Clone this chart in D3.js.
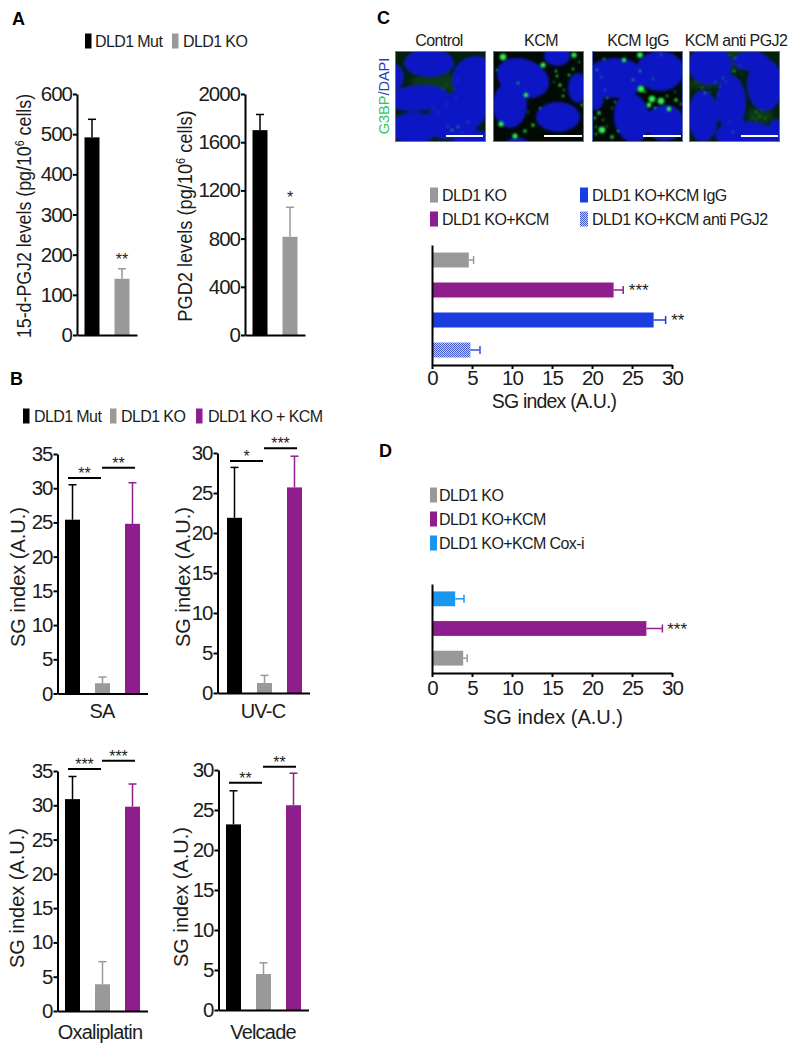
<!DOCTYPE html>
<html><head><meta charset="utf-8">
<script src="https://cdn.jsdelivr.net/npm/d3@7"></script>
<style>
html,body{margin:0;padding:0;background:#fff}
svg{display:block}
text{font-family:"Liberation Sans",Arial,sans-serif;fill:#1c1c1c}
.tick text{font-size:20.5px;letter-spacing:-1px}
.axis path,.axis line{stroke:#000;stroke-width:2}
.lg{font-size:16px;letter-spacing:-.6px}
.st{font-size:16px}
.st2{font-size:17px}
</style></head><body>
<svg id="c" width="791" height="1050"></svg>
<script>
// ---------- data ----------
const colours = {mut:"#000000", ko:"#999999", kcm:"#8e1e8e", igg:"#1a3de0", anti:"url(#hatch)", cox:"#1a96ee"};
const antiErrColour = "#3a50dc";

const groupsA = ["mut","ko"];
const groupsB = ["mut","ko","kcm"];

const pgj2Values = [492,140],  pgj2Tops = [537,165];
const pgd2Values = [1700,815], pgd2Tops = [1830,1060];

const saValues   = [25.4,1.5,24.8],  saTops   = [30.5,2.4,30.8];
const uvcValues  = [21.9,1.25,25.7], uvcTops  = [28.2,2.2,29.6];
const oxaValues  = [30.9,3.9,29.8],  oxaTops  = [34.2,7.2,33.1];
const velValues  = [23.2,4.5,25.6],  velTops  = [27.4,5.9,29.6];

const saSig  = [["**",31.5],["**",33.0]];
const uvcSig = [["*",29.0],["***",30.6]];
const oxaSig = [["***",35.3],["***",36.5]];
const velSig = [["**",28.4],["**",30.4]];

const ticks35 = [0,5,10,15,20,25,30,35];
const ticks30 = [0,5,10,15,20,25,30];
const ticksPgj2 = [0,100,200,300,400,500,600];
const ticksPgd2 = [0,400,800,1200,1600,2000];

const groupsC = ["ko","kcm","igg","anti"];
const cValues = [4.6,22.7,27.7,4.8], cTops = [5.2,23.9,29.2,6.0];
const groupsD = ["cox","kcm","ko"];
const dValues = [2.9,26.8,3.9], dTops = [4.0,28.8,4.4];

const imageTitles = ["Control","KCM","KCM IgG","KCM anti PGJ2"];
// nuclei and granules of the micrographs, in each 89-unit image's own units: [cx,cy,rx,ry,rot]
const nuclei = [
 [[33,11,25,14,0],[80,28,24,24,-30],[-2,25,10,13,0],[22,46,31,13,-5],[62,62,34,22,-30],[18,76,24,16,0],[75,86,18,9,0]],
 [[29,26,27,19,20],[16,53,17,23,0],[64,65,22,15,0],[63,4,13,10,0],[84,36,10,15,0],[23,89,10,3,0]],
 [[22,26,30,20,0],[67,19,24,20,0],[39,66,18,25,-10],[72,71,20,18,0],[3,46,8,12,0]],
 [[20,13,22,20,0],[75,33,18,26,0],[41,51,15,28,0],[13,64,15,26,0],[61,9,18,10,0],[55,83,30,14,0],[86,79,8,12,0]]
];
const haze = [
 [[40,32,26,12,0],[40,62,10,5,0],[58,80,12,4,0]],
 [],
 [],
 [[45,5,10,14,0],[15,32,20,5,0],[70,64,13,10,0],[33,28,12,8,0],[40,85,10,6,0]]
];
const spots = [
 [[52,20,.5],[50,33,.5],[62,28,.5],[47,36,.5],[58,38,.5],[38,56,.6],[42,60,.6],[50,52,.5],[60,46,.5],[56,78,1],[62,75,1],[52,74,.7],[72,70,.7],[66,80,.6]],
 [[9,5,3.2],[49,13,2.6],[80,3,2.6],[32,43,2.3],[24,31,1.1],[7,72,2.6],[21,84,2.6],[31,79,1.6],[39,73,1.6],[66,33,1.6],[69,44,1.2],[62,19,1.2],[75,23,1.2],[79,17,1.2],[63,24,1.2],[88,53,1.2],[46,56,1.1],[70,38,.9],[3,18,.9],[34,60,.8],[60,30,.8],[85,10,.9]],
 [[47,3,2.8],[31,8,2.2],[48,37,3.3],[59,47,3.3],[68,49,3.3],[56,53,2.4],[76,57,2.4],[83,48,1.7],[9,78,3.3],[6,61,1.7],[2,66,1.2],[19,85,1.7],[25,79,1.1],[14,46,1.1],[74,44,1.1],[11,7,1.1],[47,19,1.1],[4,18,.9],[8,25,.8],[12,38,.8],[22,50,.9],[19,56,.8],[10,68,.9],[14,74,.8],[3,82,1.1],[88,52,1.1],[68,3,.8],[60,27,.8],[40,28,1],[82,40,.8],[62,56,1.1],[52,40,1.1],[3,75,.9]],
 [[45,6,.8],[44,19,1.1],[50,14,.6],[12,36,.7],[20,40,.6],[25,30,.7],[33,26,.7],[15,41,.9],[66,60,.8],[70,64,.8],[66,68,.6],[75,66,.7],[72,58,.6],[62,66,.6],[40,3,.6],[52,22,.6],[36,30,.6],[30,35,.6],[28,42,.6],[43,80,.7],[40,70,.6],[6,30,.6]]
];
const scaleBars = [[50,87],[50,88],[50,88],[51,88]];

const legendA = [["DLD1 Mut",85,95,"mut"],["DLD1 KO",172,183,"ko"]];
const legendB = [["DLD1 Mut",23,34,"mut"],["DLD1 KO",110,121,"ko"],["DLD1 KO + KCM",196,208,"kcm"]];
const legendC = [["DLD1 KO",430,442,"ko",195],["DLD1 KO+KCM",430,442,"kcm",219],["DLD1 KO+KCM IgG",580,592,"igg",195],["DLD1 KO+KCM anti PGJ2",580,592,"anti",219]];
const legendD = [["DLD1 KO",430,439,"ko",495],["DLD1 KO+KCM",430,439,"kcm",519],["DLD1 KO+KCM Cox-i",430,439,"cox",543]];

// ---------- drawing ----------
const svg = d3.select("#c");
const defs = svg.append("defs");
const pat = defs.append("pattern").attr("id","hatch").attr("width",2).attr("height",2).attr("patternUnits","userSpaceOnUse");
pat.append("rect").attr("width",2).attr("height",2).attr("fill","#c9cff2");
pat.append("rect").attr("width",1).attr("height",1).attr("fill","#4258cf");
pat.append("rect").attr("x",1).attr("y",1).attr("width",1).attr("height",1).attr("fill","#4258cf");
[["b16",1.6],["b3",3],["b09",.8]].forEach(([id,s])=>defs.append("filter").attr("id",id)
  .attr("x","-50%").attr("y","-50%").attr("width","200%").attr("height","200%")
  .append("feGaussianBlur").attr("stdDeviation",s));

function letter(t,x,y){svg.append("text").attr("x",x).attr("y",y).text(t)
  .style("font-weight","700").style("font-size","18px").style("fill","#000");}
letter("A",12,25);letter("B",10,385);letter("C",377,24);letter("D",379,457);

function legend(items,cy,h,w){
  const g=svg.append("g");
  g.selectAll("rect").data(items).join("rect")
    .attr("x",d=>d[1]).attr("y",d=>(d[4]||cy)-h/2).attr("width",w).attr("height",h)
    .attr("fill",d=>colours[d[3]]);
  g.selectAll("text").data(items).join("text").attr("class","lg")
    .attr("x",d=>d[2]).attr("y",d=>(d[4]||cy)+5.5).text(d=>d[0]);
}
legend(legendA,41,15,6.5);legend(legendB,416,15,6.5);legend(legendC,0,15,8);legend(legendD,0,15,7);

function rotLabel(parts,x,cy,size,sx){
  const t=svg.append("text").attr("transform",`translate(${x},${cy}) rotate(-90) scale(${sx||1},1)`)
    .attr("text-anchor","middle").style("font-size",size+"px");
  parts.forEach(p=>{
    const s=t.append("tspan").text(p.t);
    if(p.sup) s.attr("dy",-7).style("font-size","12px");
    if(p.back) s.attr("dy",7);
  });
}

function vChart(o){
  const x=d3.scaleBand().domain(o.groups).range([o.x0,o.x0+o.groups.length*30]).paddingInner(.5).paddingOuter(.25);
  const y=d3.scaleLinear().domain([0,o.max]).range([o.y0,o.y1]);
  const g=svg.append("g");
  g.selectAll("rect").data(o.groups).join("rect")
    .attr("x",d=>x(d)).attr("width",x.bandwidth())
    .attr("y",(d,i)=>y(o.values[i])).attr("height",(d,i)=>y(0)-y(o.values[i]))
    .attr("fill",d=>colours[d]);
  const cx=d=>x(d)+x.bandwidth()/2;
  g.selectAll(".stem").data(o.groups).join("line").attr("class","stem")
    .attr("x1",cx).attr("x2",cx).attr("y1",(d,i)=>y(o.values[i])).attr("y2",(d,i)=>y(o.tops[i]))
    .attr("stroke",d=>colours[d]).attr("stroke-width",1.5);
  g.selectAll(".cap").data(o.groups).join("line").attr("class","cap")
    .attr("x1",d=>cx(d)-4).attr("x2",d=>cx(d)+4).attr("y1",(d,i)=>y(o.tops[i])).attr("y2",(d,i)=>y(o.tops[i]))
    .attr("stroke",d=>colours[d]).attr("stroke-width",1.5);
  const ax=o.axisX||o.x0;
  svg.append("g").attr("class","axis").attr("transform",`translate(${ax},0)`)
    .call(d3.axisLeft(y).tickValues(o.ticks).tickFormat(d3.format("d")).tickSize(4).tickPadding(1).tickSizeOuter(0));
  svg.append("g").attr("class","axis").attr("transform",`translate(0,${o.y0})`)
    .call(d3.axisBottom(d3.scaleLinear().domain([0,1]).range([ax,o.x0+o.groups.length*30])).tickValues([]).tickSizeOuter(0));
  if(o.sig) o.sig.forEach((s,i)=>{
    const a=x(o.groups[i])+(i?7:3), b=x(o.groups[i+1])+(i?10:6), yy=y(s[1]);
    svg.append("line").attr("x1",a).attr("x2",b).attr("y1",yy).attr("y2",yy).attr("stroke","#000").attr("stroke-width",2);
    svg.append("text").attr("class","st").attr("x",(a+b)/2).attr("y",yy+1).attr("text-anchor","middle").text(s[0]);
  });
  if(o.stars) o.stars.forEach((s,i)=>{ if(s)
    svg.append("text").attr("class","st").attr("x",cx(o.groups[i])).attr("y",y(o.tops[i])-4).attr("text-anchor","middle").text(s);
  });
  if(o.xlabel) svg.append("text").attr("x",o.xlabel[1]).attr("y",o.xlabel[2]).attr("text-anchor","middle").text(o.xlabel[0]).style("font-size","20px").style("letter-spacing","-.8px");
}
const pgLabel=a=>[{t:a+" levels (pg/10"},{t:"6",sup:true},{t:" cells)",back:true}];
vChart({groups:groupsA,values:pgj2Values,tops:pgj2Tops,max:600,ticks:ticksPgj2,x0:77,y0:335,y1:94,stars:[null,"**"]});
rotLabel(pgLabel("15-d-PGJ2"),31,216,20,.89);
vChart({groups:groupsA,values:pgd2Values,tops:pgd2Tops,max:2000,ticks:ticksPgd2,x0:245,y0:335,y1:94,stars:[null,"*"]});
rotLabel(pgLabel("PGD2"),192,216,20,.91);

const sgLabel=[{t:"SG index (A.U.)"}];
vChart({groups:groupsB,values:saValues,tops:saTops,max:35,ticks:ticks35,x0:57.5,y0:693.5,y1:454,sig:saSig,xlabel:["SA",102,718]});
rotLabel(sgLabel,25,577,20);
vChart({groups:groupsB,values:uvcValues,tops:uvcTops,max:30,ticks:ticks30,x0:219.5,axisX:217.5,y0:693,y1:453,sig:uvcSig,xlabel:["UV-C",263,718]});
rotLabel(sgLabel,190,577,20);
vChart({groups:groupsB,values:oxaValues,tops:oxaTops,max:35,ticks:ticks35,x0:57.5,y0:1011,y1:771,sig:oxaSig,xlabel:["Oxaliplatin",100,1039]});
rotLabel(sgLabel,24,898,20);
vChart({groups:groupsB,values:velValues,tops:velTops,max:30,ticks:ticks30,x0:218.5,y0:1010,y1:770,sig:velSig,xlabel:["Velcade",263,1039]});
rotLabel(sgLabel,188,897,20);

function hChart(o){
  const x=d3.scaleLinear().domain([0,30]).range([o.x0,o.x1]);
  const y=d3.scaleBand().domain(o.groups).range([o.y1,o.y0]).paddingInner(.5).paddingOuter(.25);
  const g=svg.append("g");
  const ec=d=>d==="anti"?antiErrColour:colours[d];
  g.selectAll("rect").data(o.groups).join("rect")
    .attr("x",x(0)).attr("y",d=>y(d)).attr("height",y.bandwidth())
    .attr("width",(d,i)=>x(o.values[i])-x(0)).attr("fill",d=>colours[d]);
  const cy=d=>y(d)+y.bandwidth()/2;
  g.selectAll(".stem").data(o.groups).join("line").attr("class","stem")
    .attr("y1",cy).attr("y2",cy).attr("x1",(d,i)=>x(o.values[i])).attr("x2",(d,i)=>x(o.tops[i]))
    .attr("stroke",ec).attr("stroke-width",1.5);
  g.selectAll(".cap").data(o.groups).join("line").attr("class","cap")
    .attr("y1",d=>cy(d)-4).attr("y2",d=>cy(d)+4).attr("x1",(d,i)=>x(o.tops[i])).attr("x2",(d,i)=>x(o.tops[i]))
    .attr("stroke",ec).attr("stroke-width",1.5);
  svg.append("g").attr("class","axis").attr("transform",`translate(${o.x0},0)`)
    .call(d3.axisLeft(y).tickValues([]).tickSizeOuter(0));
  svg.append("g").attr("class","axis").attr("transform",`translate(0,${o.y0})`)
    .call(d3.axisBottom(x).tickValues(ticks30).tickSize(4).tickPadding(o.pad).tickSizeOuter(0));
  o.stars.forEach(s=>svg.append("text").attr("class","st2").attr("x",x(s[1])).attr("y",cy(s[0])+6).text(s[2]));
  svg.append("text").attr("x",o.label[0]).attr("y",o.label[1]).attr("text-anchor","middle").text("SG index (A.U.)").style("font-size",o.label[2]+"px").style("letter-spacing",o.label[3]+"px");
}
hChart({groups:groupsC,values:cValues,tops:cTops,x0:432,x1:672,y0:365,y1:245,pad:1,stars:[["kcm",24.6,"***"],["igg",29.9,"**"]],label:[554,408,19.5,-.8]});
hChart({groups:groupsD,values:dValues,tops:dTops,x0:432,x1:672,y0:673,y1:584,pad:3,stars:[["kcm",29.4,"***"]],label:[553,724,20,0]});

// micrographs
const imgX=[396,494,593,690], imgY=52, imgS=89;
imageTitles.forEach((t,i)=>{
  const cx=[439,541,638,736][i];
  svg.append("text").attr("class","lg").attr("x",cx).attr("y",46).attr("text-anchor","middle").text(t);
  const clip=defs.append("clipPath").attr("id","cp"+i);
  clip.append("rect").attr("width",imgS).attr("height",imgS);
  const g=svg.append("g").attr("transform",`translate(${imgX[i]},${imgY})`);
  const inner=g.append("g").attr("clip-path",`url(#cp${i})`);
  inner.append("rect").attr("width",imgS).attr("height",imgS).attr("fill",i===0||i===3?"#04200c":"#020a04");
  const ell=(sel,data,fill,f)=>sel.append("g").attr("filter",`url(#${f})`).selectAll("ellipse").data(data).join("ellipse")
    .attr("transform",d=>`translate(${d[0]},${d[1]}) rotate(${d[4]})`).attr("rx",d=>d[2]).attr("ry",d=>d[3]).attr("fill",fill);
  ell(inner,haze[i],"#0a3a18","b3");
  ell(inner,nuclei[i],"#0b15c4","b16");
  inner.append("g").attr("filter","url(#b09)").selectAll("circle").data(spots[i]).join("circle")
    .attr("cx",d=>d[0]).attr("cy",d=>d[1]).attr("r",d=>d[2]).attr("fill","#30f050");
  inner.append("rect").attr("x",scaleBars[i][0]).attr("y",83).attr("width",scaleBars[i][1]-scaleBars[i][0]).attr("height",2).attr("fill","#fff");
  g.append("rect").attr("x",-.5).attr("y",-.5).attr("width",imgS+1).attr("height",imgS+1).attr("fill","none").attr("stroke","#5a74c0").attr("stroke-width",1);
});
const sideT=svg.append("text").attr("transform","translate(389,96) rotate(-90) ").attr("text-anchor","middle").style("font-size","14.5px");
sideT.append("tspan").text("G3BP").style("fill","#2fc75a");
sideT.append("tspan").text("/DAPI").style("fill","#2a3fb8");
</script>
</body></html>
